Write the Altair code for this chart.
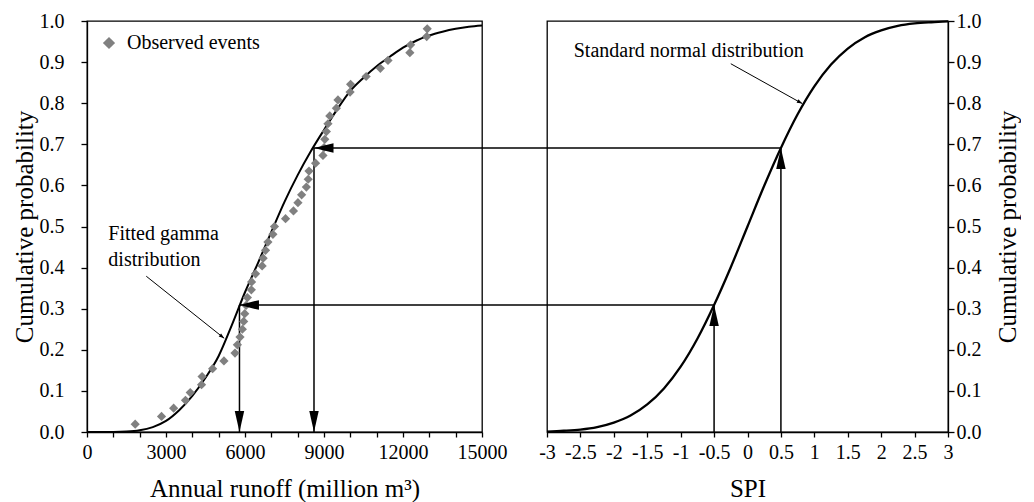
import altair as alt
import pandas as pd

# ---------------- data ----------------
# fitted gamma CDF (left panel)
gamma_runoff = [0, 1000, 1500, 2000, 2500, 3000, 3500, 4000, 4500, 5000, 5500, 6000,
                6500, 7000, 7500, 8000, 8500, 9000, 9500, 10000, 10500, 11000, 11500,
                12000, 12500, 13000, 13500, 14000, 14500, 15000]
gamma_prob = [0.0, 0.0002, 0.001, 0.004, 0.012, 0.027, 0.053, 0.088, 0.132, 0.185, 0.26,
              0.34, 0.412, 0.487, 0.56, 0.625, 0.683, 0.735, 0.785, 0.83, 0.862, 0.89,
              0.913, 0.935, 0.952, 0.965, 0.974, 0.981, 0.986, 0.989]

# observed events (left panel)
obs_runoff = [1830, 2830, 3290, 3740, 3920, 4350, 4370, 4770, 5200, 5620, 5710, 5810,
              5900, 5950, 5990, 6040, 6090, 6240, 6250, 6400, 6650, 6690, 6780, 6870,
              7060, 7120, 7540, 7840, 8010, 8150, 8330, 8400, 8430, 8680, 8960, 9000,
              9030, 9090, 9150, 9220, 9470, 9530, 9990, 10010, 10600, 11140, 11430,
              12260, 12290, 12900, 12920]
obs_prob = [0.019, 0.038, 0.058, 0.077, 0.096, 0.115, 0.135, 0.154, 0.173, 0.192, 0.212,
            0.231, 0.250, 0.269, 0.288, 0.308, 0.327, 0.346, 0.365, 0.385, 0.404, 0.423,
            0.442, 0.462, 0.481, 0.500, 0.519, 0.538, 0.558, 0.577, 0.596, 0.615, 0.635,
            0.654, 0.673, 0.692, 0.712, 0.731, 0.750, 0.769, 0.788, 0.808, 0.827, 0.846,
            0.865, 0.885, 0.904, 0.923, 0.942, 0.962, 0.981]

# standard normal CDF (right panel)
spi_values = [-3, -2.75, -2.5, -2.25, -2, -1.75, -1.5, -1.25, -1, -0.75, -0.5, -0.25, 0,
              0.25, 0.5, 0.75, 1, 1.25, 1.5, 1.75, 2, 2.25, 2.5, 2.75, 3]
normal_prob = [0.001, 0.003, 0.006, 0.012, 0.023, 0.040, 0.067, 0.106, 0.159, 0.227, 0.309,
               0.401, 0.5, 0.599, 0.691, 0.773, 0.841, 0.894, 0.933, 0.960, 0.977, 0.988,
               0.994, 0.997, 0.999]

# transformation arrows
arrow_prob = [0.309, 0.691]
arrow_runoff = [5790, 8620]
arrow_spi = [-0.5, 0.5]

# annotations
gamma_label_lines = ["Fitted gamma", "distribution"]
gamma_label_x = [810, 810]
gamma_label_y = [0.466, 0.405]
gamma_pointer_x = [2250, 5210]
gamma_pointer_y = [0.379, 0.228]
gamma_pointer_angle = 38.5

normal_label = ["Standard normal distribution"]
normal_label_x = [-2.6]
normal_label_y = [0.912]
normal_pointer_x = [-0.25, 0.82]
normal_pointer_y = [0.896, 0.799]
normal_pointer_angle = 29

# ---------------- layout / style ----------------
FONT = "Liberation Serif, Times New Roman, Times, serif"
W_L, W_R, H = 395, 401, 411
GAP = 65
X_MAX = 15000
SPI_MIN, SPI_MAX = -3, 3
spi_bridge = SPI_MIN - GAP / W_R * (SPI_MAX - SPI_MIN)

DOWN = "M0,0L-0.45,-2L0.45,-2Z"
UP = "M0,0L-0.45,2L0.45,2Z"
LEFT = "M0,0L2,-0.5L2,0.5Z"
SMALL = "M0,0L-2,-0.7L-2,0.7Z"

prob_ticks = [round(i * 0.1, 1) for i in range(11)]

sx_l = alt.Scale(domain=[0, X_MAX], nice=False, zero=False)
sy = alt.Scale(domain=[0, 1], nice=False, zero=False)
sx_r = alt.Scale(domain=[SPI_MIN, SPI_MAX], nice=False, zero=False)

ax_xl = alt.Axis(values=list(range(0, 15001, 1000)),
                 labelExpr="datum.value % 3000 == 0 ? '' + datum.value : ''",
                 tickSize=5, labelPadding=5, titlePadding=14, grid=False,
                 labelFlush=False, labelOverlap=False)
ax_yl = alt.Axis(values=prob_ticks, format=".1f", orient="left", tickSize=6,
                 labelPadding=17, titlePadding=2, grid=False, labelFlush=False)
ax_xr = alt.Axis(values=[v / 2 for v in range(-6, 7)], labelExpr="'' + datum.value",
                 tickSize=5, labelPadding=5, titlePadding=14, grid=False,
                 labelFlush=False, labelOverlap=False)
ax_yr = alt.Axis(values=prob_ticks, format=".1f", orient="right", tickSize=6,
                 labelPadding=2, titlePadding=14, titleAngle=270, titleBaseline="top",
                 grid=False, labelFlush=False)

XT = "Annual runoff (million m³)"
YT = "Cumulative probability"


def XL(f="x"):
    return alt.X(f"{f}:Q", scale=sx_l, axis=ax_xl, title=XT)


def YL(f="p"):
    return alt.Y(f"{f}:Q", scale=sy, axis=ax_yl, title=YT)


def XR(f="x"):
    return alt.X(f"{f}:Q", scale=sx_r, axis=ax_xr, title="SPI")


def YR(f="p"):
    return alt.Y(f"{f}:Q", scale=sy, axis=ax_yr, title=YT)


# ---------------- left panel ----------------
df_gamma = pd.DataFrame({"x": gamma_runoff, "p": gamma_prob})
df_obs = pd.DataFrame({"x": obs_runoff, "p": obs_prob, "series": "Observed events"})
df_arr_l = pd.DataFrame({"x": arrow_runoff, "p": arrow_prob, "p0": [0, 0],
                         "xe": [X_MAX, X_MAX]})
df_lab_l = pd.DataFrame({"x": gamma_label_x, "p": gamma_label_y, "t": gamma_label_lines})
df_ptr_l = pd.DataFrame({"x": gamma_pointer_x, "p": gamma_pointer_y, "o": [0, 1]})

gamma_line = alt.Chart(df_gamma).mark_line(color="black", strokeWidth=2,
                                           interpolate="monotone").encode(x=XL(), y=YL())
obs_pts = alt.Chart(df_obs).mark_point(shape="diamond", filled=True, size=85, opacity=1).encode(
    x=XL(), y=YL(),
    color=alt.Color("series:N", scale=alt.Scale(range=["#808080"]),
                    legend=alt.Legend(orient="top-left", title=None, symbolType="diamond",
                                      symbolSize=150, symbolOpacity=1, labelFontSize=20,
                                      labelFont=FONT, labelColor="black", offset=12,
                                      padding=0, labelOffset=8)))
v_rules_l = alt.Chart(df_arr_l).mark_rule(color="black", strokeWidth=1.5).encode(
    x=XL(), y=YL(), y2="p0:Q")
v_heads_l = alt.Chart(df_arr_l).mark_point(shape=DOWN, filled=True, size=440, opacity=1,
                                           color="black").encode(x=XL(), y=YL("p0"))
h_rules_l = alt.Chart(df_arr_l).mark_rule(color="black", strokeWidth=1.5).encode(
    x=XL(), x2="xe:Q", y=YL())
h_heads_l = alt.Chart(df_arr_l).mark_point(shape=LEFT, filled=True, size=380, opacity=1,
                                           color="black").encode(x=XL(), y=YL())
lab_l = alt.Chart(df_lab_l).mark_text(font=FONT, fontSize=20, align="left",
                                      baseline="alphabetic", color="black").encode(
    x=XL(), y=YL(), text="t:N")
ptr_l = alt.Chart(df_ptr_l).mark_line(color="black", strokeWidth=1).encode(
    x=XL(), y=YL(), order="o:Q")
ptr_head_l = alt.Chart(df_ptr_l.iloc[[1]]).mark_point(
    shape=SMALL, filled=True, size=30, opacity=1, color="black",
    angle=gamma_pointer_angle).encode(x=XL(), y=YL())

left = alt.layer(gamma_line, v_rules_l, h_rules_l, ptr_l, obs_pts, v_heads_l, h_heads_l,
                 ptr_head_l, lab_l).properties(width=W_L, height=H)

# ---------------- right panel ----------------
df_norm = pd.DataFrame({"x": spi_values, "p": normal_prob})
df_arr_r = pd.DataFrame({"x": arrow_spi, "p": arrow_prob, "p0": [0, 0],
                         "xb": [spi_bridge, spi_bridge]})
df_lab_r = pd.DataFrame({"x": normal_label_x, "p": normal_label_y, "t": normal_label})
df_ptr_r = pd.DataFrame({"x": normal_pointer_x, "p": normal_pointer_y, "o": [0, 1]})

norm_line = alt.Chart(df_norm).mark_line(color="black", strokeWidth=2.3,
                                         interpolate="monotone").encode(x=XR(), y=YR())
v_rules_r = alt.Chart(df_arr_r).mark_rule(color="black", strokeWidth=1.5).encode(
    x=XR(), y=YR(), y2="p0:Q")
v_heads_r = alt.Chart(df_arr_r).mark_point(shape=UP, filled=True, size=440, opacity=1,
                                           color="black").encode(x=XR(), y=YR())
h_rules_r = alt.Chart(df_arr_r).mark_rule(color="black", strokeWidth=1.5).encode(
    x=XR("xb"), x2="x:Q", y=YR())
lab_r = alt.Chart(df_lab_r).mark_text(font=FONT, fontSize=20, align="left",
                                      baseline="alphabetic", color="black").encode(
    x=XR(), y=YR(), text="t:N")
ptr_r = alt.Chart(df_ptr_r).mark_line(color="black", strokeWidth=1).encode(
    x=XR(), y=YR(), order="o:Q")
ptr_head_r = alt.Chart(df_ptr_r.iloc[[1]]).mark_point(
    shape=SMALL, filled=True, size=30, opacity=1, color="black",
    angle=normal_pointer_angle).encode(x=XR(), y=YR())

right = alt.layer(norm_line, v_rules_r, h_rules_r, ptr_r, v_heads_r, ptr_head_r,
                  lab_r).properties(width=W_R, height=H)

chart = alt.hconcat(left, right, spacing=GAP, bounds="flush").properties(
    padding={"left": 3, "top": 2, "right": 0, "bottom": 0}
).configure(font=FONT, background="white").configure_view(
    stroke="black", strokeWidth=1.3
).configure_axis(
    labelFont=FONT, titleFont=FONT, labelFontSize=20, titleFontSize=25,
    titleFontWeight="normal", labelColor="black", titleColor="black",
    domainColor="black", tickColor="black", domainWidth=1.3, tickWidth=1.3
).configure_legend(labelFont=FONT).configure_text(font=FONT)

chart.save("out.html", embed_options={"renderer": "svg", "actions": False})
